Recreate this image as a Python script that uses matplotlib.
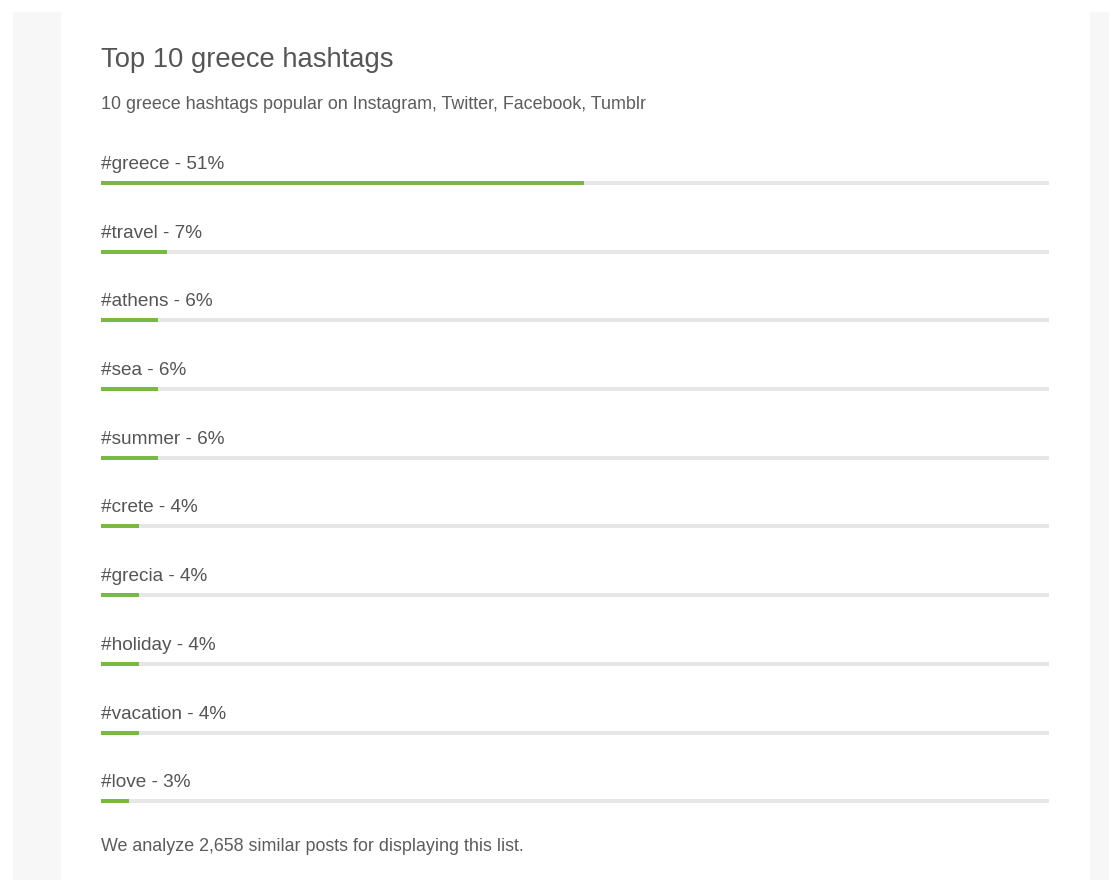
import matplotlib
matplotlib.use("Agg")
import matplotlib.pyplot as plt
from matplotlib.patches import Rectangle

# hashtag shares (percent of analysed posts)
tags = ["#greece", "#travel", "#athens", "#sea", "#summer",
        "#crete", "#grecia", "#holiday", "#vacation", "#love"]
shares = [51, 7, 6, 6, 6, 4, 4, 4, 4, 3]

title = "Top 10 greece hashtags"
subtitle = "10 greece hashtags popular on Instagram, Twitter, Facebook, Tumblr"
footer = "We analyze 2,658 similar posts for displaying this list."

W, H = 1109, 880
plt.rcParams["font.family"] = ["Liberation Sans", "DejaVu Sans"]

fig = plt.figure(figsize=(W / 100, H / 100), dpi=100)
fig.patch.set_facecolor("white")

# grey page margins either side of the card
fig.patches.append(Rectangle((13 / W, 0), 47 / W, (H - 12) / H,
                             transform=fig.transFigure, color="#f7f7f7", zorder=0))
fig.patches.append(Rectangle((1090 / W, 0), 18 / W, (H - 12) / H,
                             transform=fig.transFigure, color="#f7f7f7", zorder=0))

# axes spans the track width, y axis in pixels from the top
ax = fig.add_axes([101 / W, 0, 948 / W, 1])
ax.set_xlim(0, 100)
ax.set_ylim(H, 0)
ax.axis("off")

row_top = 183
row_gap = 68.7
ys = [row_top + i * row_gap for i in range(len(tags))]

ax.barh(ys, [100] * len(tags), height=4, left=0, color="#e6e6e6")
ax.barh(ys, shares, height=4, left=0, color="#78b843")

text_col = "#555555"
for y, tag, s in zip(ys, tags, shares):
    ax.text(0, y - 14, "%s - %d%%" % (tag, s), fontsize=13.7,
            color=text_col, va="baseline", ha="left")

ax.text(0, 67, title, fontsize=19.7, color=text_col, va="baseline")
ax.text(0, 109, subtitle, fontsize=12.9, color="#5c5c5c", va="baseline")
ax.text(0, 851, footer, fontsize=12.9, color="#5c5c5c", va="baseline")

fig.savefig("out.png", dpi=100, facecolor=fig.get_facecolor())
